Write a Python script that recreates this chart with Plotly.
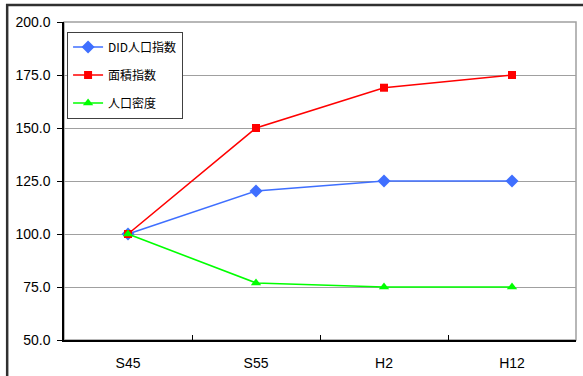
import plotly.graph_objects as go

# Survey years and index values (S45 = 100)
years = ["S45", "S55", "H2", "H12"]
did_population = [100.0, 120.3, 125.0, 125.0]
area_index = [100.0, 150.0, 169.0, 175.0]
density = [100.0, 76.9, 75.0, 75.0]
y_ticks = [50, 75, 100, 125, 150, 175, 200]

font_family = "Liberation Sans, Arial, Noto Sans CJK JP"

series = [
    ("DID人口指数", did_population, "#3F6FFF", "diamond", 10),
    ("面積指数", area_index, "#FF0000", "square", 8),
    ("人口密度", density, "#00FF00", "triangle-up", 9),
]

fig = go.Figure()
for i, (name, vals, color, sym, size) in enumerate(series):
    fig.add_trace(go.Scatter(
        x=years, y=vals, name=name, mode="lines+markers",
        line=dict(color=color, width=1.6),
        marker=dict(symbol=sym, size=size, color=color),
        legendgroup=f"g{i}",
    ))

# gray frame around the plotting area
fig.add_shape(type="rect", xref="paper", yref="paper", x0=0, y0=0, x1=1, y1=1,
              line=dict(color="#A0A0A0", width=1.5), layer="below")
# outer chart border
fig.add_shape(type="rect", xref="paper", yref="paper",
              x0=-0.111, y0=-0.3, x1=1.2, y1=1.0535,
              line=dict(color="#303030", width=2.5))

fig.update_layout(
    width=583, height=376,
    margin=dict(l=64, r=7, t=22, b=36, autoexpand=False),
    paper_bgcolor="white", plot_bgcolor="white",
    font=dict(family=font_family, size=14, color="black"),
    showlegend=True,
    legend=dict(
        x=0.006, y=0.97, xanchor="left", yanchor="top",
        bgcolor="white", bordercolor="#404040", borderwidth=1,
        font=dict(family="Noto Sans CJK JP, " + font_family, size=12),
        tracegroupgap=9,
        itemwidth=30,
    ),
    xaxis=dict(
        type="category", range=[-0.5, 3.5], automargin=False,
        showline=True, linecolor="black", linewidth=1.5,
        ticks="inside", ticklen=5, tickcolor="black",
        tickson="boundaries", showgrid=False,
        tickfont=dict(size=14), ticklabelstandoff=9,
    ),
    yaxis=dict(
        range=[50, 200], tickvals=y_ticks, automargin=False,
        ticktext=[f"{v:.1f}" for v in y_ticks],
        showline=True, linecolor="black", linewidth=1.5,
        ticks="outside", ticklen=5, tickcolor="black",
        showgrid=True, gridcolor="#A0A0A0", gridwidth=1,
        zeroline=False, tickfont=dict(size=14), ticklabelstandoff=4,
    ),
)

fig.write_html("out.html")
